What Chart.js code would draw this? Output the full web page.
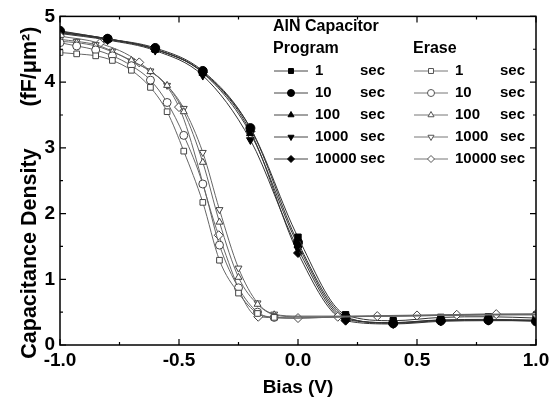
<!DOCTYPE html>
<html>
<head>
<meta charset="utf-8">
<script src="https://cdn.jsdelivr.net/npm/chart.js@4.4.0/dist/chart.umd.min.js"></script>
<style>
body{margin:0;background:#fff;}
#wrap{width:559px;height:403px;}
</style>
</head>
<body>
<div id="wrap"><canvas id="cv-chart"></canvas></div>
<script>
// program curves (filled symbols)
var progX = [-1.0,-0.8,-0.6,-0.4,-0.2,0.0,0.2,0.4,0.6,0.8,1.0];
var prog1s = [4.75,4.66,4.50,4.15,3.30,1.64,0.46,0.37,0.42,0.43,0.41];
var prog10s = [4.78,4.66,4.52,4.17,3.30,1.56,0.43,0.33,0.37,0.38,0.36];
var prog100s = [4.76,4.65,4.50,4.14,3.22,1.52,0.41,0.34,0.38,0.39,0.38];
var prog1000s = [4.74,4.64,4.48,4.10,3.12,1.46,0.39,0.34,0.38,0.38,0.37];
var prog10000s = [4.77,4.66,4.50,4.15,3.25,1.40,0.37,0.32,0.36,0.37,0.37];

// erase curves (open symbols)
var eraseX = [-1.0,-0.93,-0.85,-0.78,-0.70,-0.62,-0.55,-0.48,-0.40,-0.33,-0.25,-0.17,-0.10,0.0,0.2,0.4,0.6,0.8,1.0];
var erase1s = [4.45,4.43,4.40,4.33,4.18,3.92,3.55,2.95,2.17,1.29,0.79,0.48,0.42,0.41,0.43,0.44,0.45,0.46,0.46];
var erase10s = [4.60,4.55,4.49,4.40,4.25,4.03,3.69,3.19,2.45,1.52,0.87,0.50,0.42,0.41,0.43,0.44,0.45,0.46,0.46];
var erase100s = [4.62,4.60,4.55,4.46,4.33,4.16,3.95,3.55,2.78,1.87,1.03,0.62,0.46,0.43,0.43,0.44,0.45,0.46,0.47];
var erase1000s = [4.65,4.62,4.57,4.47,4.32,4.17,3.95,3.60,2.93,2.06,1.17,0.64,0.47,0.44,0.44,0.45,0.46,0.47,0.47];
var eraseDiaX = [-1.0,-0.833,-0.667,-0.5,-0.333,-0.167,0.0,0.167,0.333,0.5,0.667,0.833,1.0];
var erase10000s = [4.70,4.59,4.30,3.62,1.67,0.43,0.41,0.43,0.44,0.45,0.46,0.47,0.47];

var timeLabels = ['1','10','100','1000','10000'];
var symbols = [
  {style:'rect', rot:0},
  {style:'circle', rot:0},
  {style:'triangle', rot:0},
  {style:'triangle', rot:180},
  {style:'rectRot', rot:0}
];
var fontFam = '"Liberation Sans", Arial, sans-serif';

function pts(xs, ys){
  return xs.map(function(x, i){ return {x: x, y: ys[i]}; });
}

var progSets = [prog1s, prog10s, prog100s, prog1000s, prog10000s];
var eraseSets = [erase1s, erase10s, erase100s, erase1000s, erase10000s];

var datasets = [];
eraseSets.forEach(function(ys, i){
  var xs = i == 4 ? eraseDiaX : eraseX;
  datasets.push({
    label: 'Erase ' + timeLabels[i] + ' sec',
    data: pts(xs, ys),
    borderColor: '#666',
    borderWidth: 1,
    pointStyle: symbols[i].style,
    pointRotation: symbols[i].rot,
    pointBackgroundColor: '#fff',
    pointBorderColor: '#444',
    pointBorderWidth: 1,
    pointRadius: i == 4 ? 4.5 : function(c){ return (c.raw && c.raw.x > -0.08) ? 0 : 4; },
    cubicInterpolationMode: 'monotone',
    clip: 0
  });
});
progSets.forEach(function(ys, i){
  datasets.push({
    label: 'Program ' + timeLabels[i] + ' sec',
    data: pts(progX, ys),
    borderColor: '#333',
    borderWidth: 1,
    pointStyle: symbols[i].style,
    pointRotation: symbols[i].rot,
    pointBackgroundColor: '#000',
    pointBorderColor: '#000',
    pointBorderWidth: 1,
    pointRadius: 4.5,
    cubicInterpolationMode: 'monotone',
    clip: 0
  });
});

// box + inward ticks on all four sides
var framePlugin = {
  id: 'frame',
  afterDraw: function(chart){
    var ctx = chart.ctx, a = chart.chartArea;
    var xs = chart.scales.x, ys = chart.scales.y;
    ctx.save();
    ctx.strokeStyle = '#000';
    ctx.lineWidth = 1.5;
    ctx.strokeRect(a.left, a.top, a.right - a.left, a.bottom - a.top);
    ctx.lineWidth = 1.2;
    ctx.beginPath();
    for (var v = -1; v <= 1.001; v += 0.25){
      var px = xs.getPixelForValue(v);
      var len = Math.abs(v * 2 - Math.round(v * 2)) < 0.01 ? 6 : 3;
      ctx.moveTo(px, a.bottom); ctx.lineTo(px, a.bottom - len);
      ctx.moveTo(px, a.top); ctx.lineTo(px, a.top + len);
    }
    for (var w = 0; w <= 5.001; w += 0.5){
      var py = ys.getPixelForValue(w);
      var l2 = Math.abs(w - Math.round(w)) < 0.01 ? 6 : 3;
      ctx.moveTo(a.left, py); ctx.lineTo(a.left + l2, py);
      ctx.moveTo(a.right, py); ctx.lineTo(a.right - l2, py);
    }
    ctx.stroke();
    ctx.restore();
  }
};

// legend drawn like the original figure
var legendPlugin = {
  id: 'figLegend',
  afterDatasetsDraw: function(chart){
    var ctx = chart.ctx;
    ctx.save();
    ctx.fillStyle = '#000';
    ctx.font = 'bold 16px ' + fontFam;
    ctx.textBaseline = 'middle';
    ctx.textAlign = 'left';
    ctx.fillText('AlN Capacitor', 273, 27);
    ctx.fillText('Program', 273, 49);
    ctx.fillText('Erase', 413, 49);
    ctx.font = 'bold 15px ' + fontFam;
    for (var i = 0; i < 5; i++){
      var y = 71 + 22 * i;
      [[274, false], [414, true]].forEach(function(col){
        var x0 = col[0], open = col[1];
        ctx.strokeStyle = open ? '#777' : '#444';
        ctx.lineWidth = 1;
        ctx.beginPath();
        ctx.moveTo(x0, y); ctx.lineTo(x0 + 34, y);
        ctx.stroke();
        ctx.fillStyle = open ? '#fff' : '#000';
        ctx.strokeStyle = open ? '#555' : '#000';
        Chart.helpers.drawPoint(ctx, {
          pointStyle: symbols[i].style,
          rotation: symbols[i].rot,
          radius: 3.5,
          borderWidth: 1
        }, x0 + 17, y);
        ctx.fillStyle = '#000';
        ctx.fillText(timeLabels[i], x0 + 41, y);
        ctx.fillText('sec', x0 + 86, y);
      });
    }
    ctx.restore();
  }
};

var ctx = document.getElementById('cv-chart').getContext('2d');
var myChart = new Chart(ctx, {
  type: 'line',
  data: { datasets: datasets },
  options: {
    responsive: true,
    maintainAspectRatio: false,
    animation: false,
    events: [],
    layout: { padding: { top: 16, right: 23, left: 0, bottom: 0 } },
    plugins: {
      legend: { display: false },
      tooltip: { enabled: false }
    },
    scales: {
      x: {
        type: 'linear',
        min: -1, max: 1,
        grid: { display: false, drawTicks: false },
        border: { display: false },
        ticks: {
          stepSize: 0.5,
          color: '#000',
          padding: 4,
          font: { family: fontFam, size: 19, weight: 'bold' },
          callback: function(value){ return value.toFixed(1); }
        },
        title: {
          display: true,
          text: 'Bias (V)',
          color: '#000',
          padding: { top: 0 },
          font: { family: fontFam, size: 19, weight: 'bold' }
        },
        afterFit: function(scale){ scale.height = 58; }
      },
      y: {
        min: 0, max: 5,
        grid: { display: false, drawTicks: false },
        border: { display: false },
        ticks: {
          stepSize: 1,
          color: '#000',
          padding: 5,
          font: { family: fontFam, size: 19, weight: 'bold' }
        },
        title: {
          display: true,
          text: 'Capacitance Density       (fF/\u03bcm\u00b2)    ',
          color: '#000',
          padding: { top: 17, bottom: 0 },
          font: { family: fontFam, size: 21.5, weight: 'bold' }
        },
        afterFit: function(scale){ scale.width = 60; }
      }
    }
  },
  plugins: [framePlugin, legendPlugin]
});
</script>
</body>
</html>
